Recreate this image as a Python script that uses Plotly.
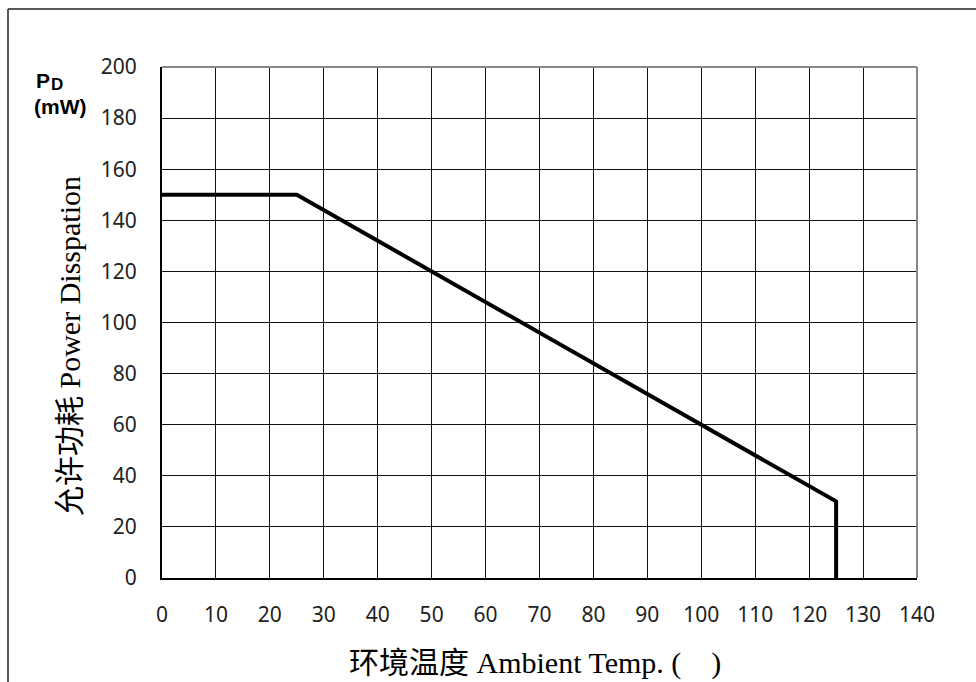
import plotly.graph_objects as go

temp = [0, 25, 125, 125]
power = [150, 150, 30, 0]
x_ticks = list(range(0, 141, 10))
y_ticks = list(range(0, 201, 20))

L, R, T, B = 162, 59, 67, 104
W, H = 976, 682
pw, ph = W - L - R, H - T - B

def px(x):
    return (x - L) / pw

def py(y):
    return (H - B - y) / ph

fig = go.Figure()
fig.add_trace(go.Scatter(x=temp, y=power, mode="lines",
                         line=dict(color="black", width=4), showlegend=False,
                         cliponaxis=False))

tickfont = dict(family="Noto Sans, DejaVu Sans, sans-serif", size=21, color="#222")
fig.update_xaxes(range=[0, 140], tickvals=x_ticks, showgrid=True, gridcolor="#111", gridwidth=1,
                 showline=True, linecolor="black", linewidth=2, zeroline=False,
                 tickfont=tickfont, ticks="", ticklabelstandoff=17, fixedrange=True)
fig.update_yaxes(range=[0, 200], tickvals=y_ticks, showgrid=True, gridcolor="#111", gridwidth=1,
                 showline=True, linecolor="black", linewidth=2, zeroline=False,
                 tickfont=tickfont, ticks="", ticklabelstandoff=19, fixedrange=True)

shapes = [
    # plot frame top and right (gray)
    dict(type="line", xref="paper", yref="paper", x0=0, x1=1, y0=1, y1=1,
         line=dict(color="#888", width=2)),
    dict(type="line", xref="paper", yref="paper", x0=1, x1=1, y0=0, y1=1,
         line=dict(color="#888", width=2)),
    # outer border (left and top)
    dict(type="line", xref="paper", yref="paper", x0=px(8), x1=px(8), y0=py(9), y1=py(690),
         line=dict(color="#222", width=1.5)),
    dict(type="line", xref="paper", yref="paper", x0=px(8), x1=px(980), y0=py(9), y1=py(9),
         line=dict(color="#222", width=1.5)),
]

cjk = "Noto Sans CJK SC"
serif = "Liberation Serif, Times New Roman, serif"
bold_sans = "Liberation Sans, Arial, sans-serif"
annotations = [
    dict(text=f"<span style='font-family:{cjk}'>允许功耗</span> <span style='font-family:{serif}'>Power Disspation</span>",
         xref="paper", yref="paper", x=px(67), y=py(346), textangle=-90, showarrow=False,
         font=dict(size=30, color="black", family=serif), xanchor="center", yanchor="middle"),
    dict(text=f"<span style='font-family:{cjk}'>环境温度</span> <span style='font-family:{serif}'>Ambient Temp. (    )</span>",
         xref="paper", yref="paper", x=px(535), y=py(660), showarrow=False,
         font=dict(size=30, color="black", family=serif), xanchor="center", yanchor="middle"),
    dict(text="<b>P</b>", xref="paper", yref="paper", x=px(42.5), y=py(80),
         showarrow=False, font=dict(size=21, color="black", family=bold_sans),
         xanchor="center", yanchor="middle"),
    dict(text="<b>D</b>", xref="paper", yref="paper", x=px(57), y=py(84),
         showarrow=False, font=dict(size=17, color="black", family=bold_sans),
         xanchor="center", yanchor="middle"),
    dict(text="<b>(mW)</b>", xref="paper", yref="paper", x=px(60), y=py(106),
         showarrow=False, font=dict(size=21, color="black", family=bold_sans),
         xanchor="center", yanchor="middle"),
]

fig.update_layout(width=W, height=H, margin=dict(l=L, r=R, t=T, b=B),
                  plot_bgcolor="white", paper_bgcolor="white",
                  shapes=shapes, annotations=annotations, showlegend=False)

fig.write_html("out.html", config={"displayModeBar": False},
               post_script="document.body.style.margin='0';document.body.style.overflow='hidden';")
